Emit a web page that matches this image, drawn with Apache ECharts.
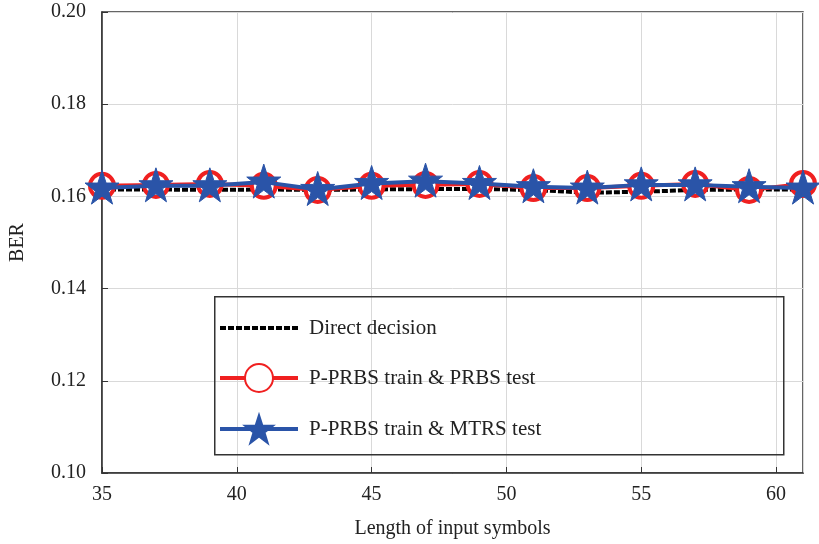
<!DOCTYPE html>
<html>
<head>
<meta charset="utf-8">
<script src="https://cdn.jsdelivr.net/npm/echarts@6/dist/echarts.min.js"></script>
<style>
html,body{margin:0;padding:0;background:#fff;}
#chart{width:819px;height:544px;}
</style>
</head>
<body>
<div id="chart"></div>
<script>
var symbolLengths = [35, 37, 39, 41, 43, 45, 47, 49, 51, 53, 55, 57, 59, 61];
var directDecision = [0.1615, 0.1615, 0.1614, 0.1615, 0.1614, 0.1615, 0.1616, 0.1616, 0.1614, 0.1608, 0.1610, 0.1614, 0.1615, 0.1615];
var prbsTest = [0.1623, 0.1625, 0.1627, 0.1623, 0.1614, 0.1623, 0.1625, 0.1627, 0.1618, 0.1618, 0.1623, 0.1627, 0.1614, 0.1627];
var mtrsTest = [0.1618, 0.1623, 0.1623, 0.1631, 0.1615, 0.1628, 0.1633, 0.1628, 0.1621, 0.1618, 0.1625, 0.1625, 0.1621, 0.1618];
var legendNames = ['Direct decision', 'P-PRBS train & PRBS test', 'P-PRBS train & MTRS test'];

var starPath = 'path://M50,0 L61.8,35.3 L99,35.3 L69,57.4 L80.4,92.7 L50,70.9 L19.6,92.7 L31,57.4 L1,35.3 L38.2,35.3 Z';
var fontFamily = '"Liberation Serif", "Times New Roman", serif';

var toPairs = function (xs, ys) {
    var out = [];
    for (var i = 0; i < xs.length; i++) {
        out.push([xs[i], ys[i]]);
    }
    return out;
};

var axisText = {color: '#222', fontFamily: fontFamily, fontSize: 20};

var option = {
    animation: false,
    backgroundColor: '#fff',
    grid: {left: 102, right: 16, top: 12, bottom: 71, show: true, borderColor: '#333', borderWidth: 1.5},
    xAxis: {
        type: 'value', min: 35, max: 61, interval: 5,
        name: 'Length of input symbols', nameLocation: 'middle', nameGap: 46,
        nameTextStyle: axisText,
        axisLine: {lineStyle: {color: '#333', width: 1.5}},
        axisTick: {inside: true, length: 6, lineStyle: {color: '#333'}},
        axisLabel: {color: '#222', fontFamily: fontFamily, fontSize: 20, margin: 12,
            showMaxLabel: false},
        splitLine: {lineStyle: {color: '#d9d9d9', width: 1}}
    },
    yAxis: {
        type: 'value', min: 0.10, max: 0.20, interval: 0.02,
        name: 'BER', nameLocation: 'middle', nameGap: 74, nameRotate: 90,
        nameTextStyle: axisText,
        axisLine: {show: true, lineStyle: {color: '#333', width: 1.5}},
        axisTick: {show: true, inside: true, length: 6, lineStyle: {color: '#333'}},
        axisLabel: {color: '#222', fontFamily: fontFamily, fontSize: 20, margin: 16,
            formatter: function (v) { return v.toFixed(2); }},
        splitLine: {lineStyle: {color: '#d9d9d9', width: 1}}
    },
    legend: {
        orient: 'vertical', left: 213, top: 309, itemGap: 21,
        itemWidth: 78, itemHeight: 35,
        textStyle: {color: '#222', fontFamily: fontFamily, fontSize: 21, padding: [0, 0, 0, 6]},
        data: [
            {name: legendNames[0], itemStyle: {opacity: 0}, lineStyle: {width: 4, type: [6, 2], color: '#000'}},
            {name: legendNames[1], lineStyle: {width: 4, color: '#f02020'}},
            {name: legendNames[2], lineStyle: {width: 4, color: '#2a54a8'}}
        ]
    },
    graphic: [{
        type: 'rect', left: 214, top: 296, z: 10, silent: true,
        shape: {width: 569, height: 158},
        style: {fill: 'rgba(255,255,255,0)', stroke: '#333', lineWidth: 1.5}
    }, {
        type: 'rect', left: 214.75, top: 296.75, z: -1, silent: true,
        shape: {width: 567.5, height: 156.5},
        style: {fill: '#fff'}
    }],
    series: [{
        name: legendNames[0], type: 'line', z: 2,
        data: toPairs(symbolLengths, directDecision),
        showSymbol: false, symbol: 'circle', symbolSize: 0,
        lineStyle: {color: '#000', width: 4, type: [6, 2]},
        itemStyle: {color: '#000'}
    }, {
        name: legendNames[1], type: 'line', z: 3,
        data: toPairs(symbolLengths, prbsTest),
        symbol: 'circle', symbolSize: 24,
        lineStyle: {color: '#f02020', width: 4},
        itemStyle: {color: '#fff', borderColor: '#f02020', borderWidth: 4}
    }, {
        name: legendNames[2], type: 'line', z: 4,
        data: toPairs(symbolLengths, mtrsTest),
        symbol: starPath, symbolSize: 34, symbolOffset: [0, -1],
        lineStyle: {color: '#2a54a8', width: 4},
        itemStyle: {color: '#2a54a8', borderColor: '#2a54a8', borderWidth: 1}
    }]
};

var chart = echarts.init(document.getElementById('chart'));
chart.setOption(option);
</script>
</body>
</html>
